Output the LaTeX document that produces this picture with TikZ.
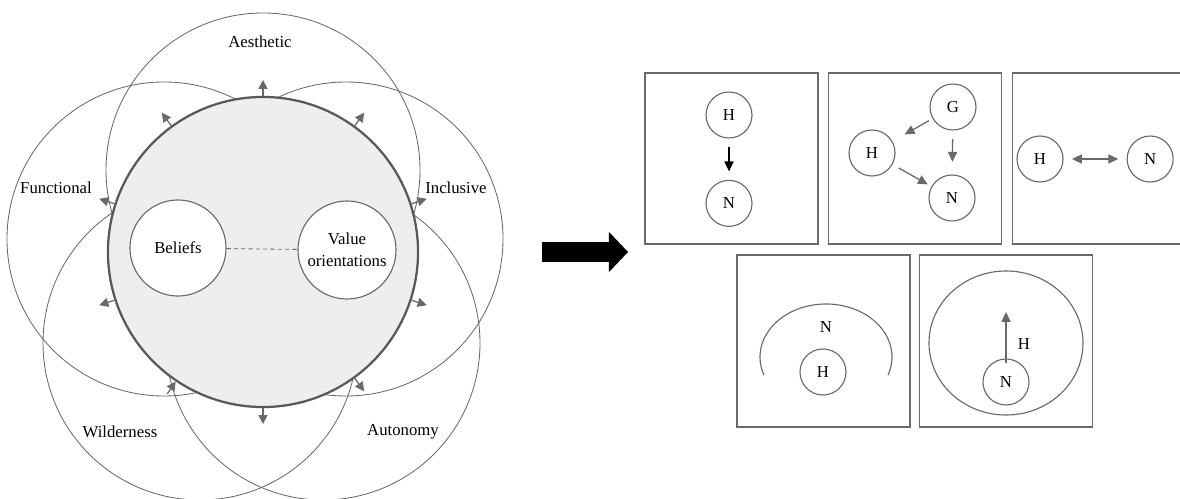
\documentclass[tikz,border=0pt]{standalone}
\usepackage{fontspec}
\setmainfont{Liberation Serif}
\usetikzlibrary{arrows.meta,positioning}
\definecolor{linegray}{RGB}{105,105,105}
\definecolor{rimgray}{RGB}{88,88,88}
\definecolor{coregray}{RGB}{238,238,238}

\begin{document}
\begin{tikzpicture}[x=0.025cm,y=0.025cm,
  font=\fontsize{11.9}{15.6}\selectfont,
  ring/.style={draw=linegray, line width=0.6pt},
  ball/.style={circle, draw=linegray, line width=0.8pt, fill=white, inner sep=0pt},
  dot/.style={ball, minimum size=1.15cm},
  panel/.style={draw=linegray, line width=1pt, minimum width=4.33cm, minimum height=4.28cm},
  link/.style={linegray, line width=0.9pt, ->, >={Triangle[length=7pt,width=6.5pt]},
    shorten <=6pt, shorten >=6pt},
  sting/.style={linegray, line width=0.9pt, -{Triangle[length=6.5pt,width=6.5pt]}}]
\useasboundingbox (0,0) rectangle (1180,-499);
\clip (0,0) rectangle (1180,-499);

% value circles
\draw[ring] (263,-170) circle (157);
\draw[ring] (164,-239) circle (157);
\draw[ring] (346,-239) circle (157);
\draw[ring] (200,-343) circle (157);
\draw[ring] (323,-343) circle (157);
\node (aes) at (260,-42) {Aesthetic};
\node (fun) at (56,-188) {Functional};
\node (inc) at (456,-188) {Inclusive};
\node (wil) at (120,-432) {Wilderness};
\node (aut) at (403,-432) {Autonomy};

% core
\node[circle, draw=rimgray, line width=1.6pt, fill=coregray, minimum size=7.75cm, inner sep=0pt] (core) at (263,-252) {};
\node[ball, minimum size=2.4cm] (bel) at (178,-248) {Beliefs};
\node[ball, minimum size=2.45cm, align=center] (val) at (347,-250) {Value\\orientations};
\draw[linegray, line width=0.6pt, dash pattern=on 3pt off 2.2pt] (bel) -- (val);
\foreach \a in {90,126,54,162,18,198,342,306,270} {
  \path (core.\a) ++(\a:16) coordinate (o\a);
  \draw[sting] (core.\a) -- (o\a);
}
\path (core.236) ++(236:15) coordinate (o236);
\draw[sting] (o236) -- (core.236);

% big arrow
\coordinate (go) at (542,-252);
\coordinate (to) at (628,-252);
\draw[line width=0.5cm, -{Triangle[length=0.475cm, width=1cm, line width=0pt]}] (go) -- (to);

% panels
\node[panel] (p1) at (731.5,-158.5) {};
\node[panel] (p2) at (915,-158.5) {};
\node[panel] (p3) at (1099,-158.5) {};
\node[panel, minimum height=4.3cm] (p4) at (823.5,-341) {};
\node[panel, minimum height=4.3cm] (p5) at (1006,-341) {};

\node[dot] (h1) at (729,-115) {H};
\node[dot, below=1.03cm of h1] (n1) {N};
\draw[link, black] (h1) -- (n1);

\node[dot] (g2) at (953,-107) {G};
\node[dot] (h2) at (872,-153) {H};
\node[dot] (n2) at (952,-198) {N};
\draw[link, shorten <=3pt, shorten >=10pt] (g2) -- (h2);
\draw[link, shorten <=6pt, shorten >=9pt] (g2) -- (n2);
\draw[link, shorten <=5pt, shorten >=3pt] (h2) -- (n2);

\node[dot] (h3) at (1040,-159) {H};
\node[dot, right=1.575cm of h3] (n3) {N};
\draw[link, <->] (h3) -- (n3);

\draw[ring, line width=0.8pt] (826,-357) ++(-20:66 and 53) arc[start angle=-20, end angle=200, x radius=66, y radius=53];
\node (n4) at (826,-327) {N};
\node[dot] (h4) at (823,-372) {H};

\draw[ring, line width=0.8pt] (1006,-343) ellipse[x radius=77, y radius=72];
\node[dot] (n5) at (1006,-382) {N};
\node (h5) at (1024,-344) {H};
\coordinate (up5) at (1006,-312);
\draw[link, shorten <=-3pt, shorten >=0pt] (n5) -- (up5);
\end{tikzpicture}
\end{document}
